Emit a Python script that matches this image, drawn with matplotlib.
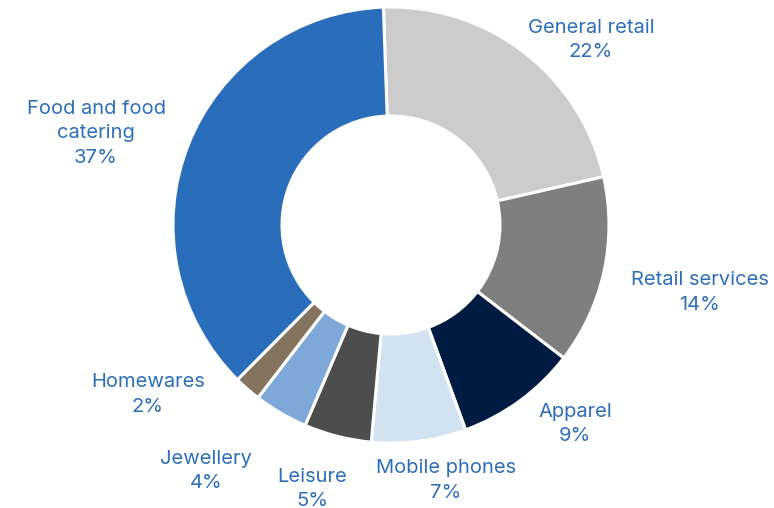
import matplotlib.pyplot as plt

# Share of units by retail category
categories = ["General retail", "Retail services", "Apparel", "Mobile phones",
              "Leisure", "Jewellery", "Homewares", "Food and food\ncatering"]
shares = [22, 14, 9, 7, 5, 4, 2, 37]

colors = ["#cccccc", "#7f7f7f", "#001b41", "#d3e2f1",
          "#4d4d4d", "#7ea8d7", "#84735f", "#2a6ebb"]

# label centres, in units of the outer radius from the ring centre
label_pos = [(0.917, 0.849), (1.417, -0.310), (0.844, -0.913), (0.252, -1.172),
             (-0.362, -1.210), (-0.849, -1.127), (-1.115, -0.777), (-1.353, 0.420)]

W, H = 774, 508
fig = plt.figure(figsize=(W / 100, H / 100), dpi=100)
ax = fig.add_axes([0, 0, 1, 1])

cx, cy, R = 391, H - 225, 218

ax.pie(shares, colors=colors, startangle=92, counterclock=False,
       radius=R, center=(cx, cy),
       wedgeprops=dict(width=R * 0.5, edgecolor="white", linewidth=2.2))

for name, val, (px, py) in zip(categories, shares, label_pos):
    ax.text(cx + px * R, cy + py * R, f"{name}\n{val}%",
            ha="center", va="center", fontsize=14.5, color="#2f6fb7",
            family=["Inter", "DejaVu Sans"], linespacing=1.45)

ax.set_xlim(0, W)
ax.set_ylim(0, H)
ax.axis("off")

fig.savefig("out.png", dpi=100)
